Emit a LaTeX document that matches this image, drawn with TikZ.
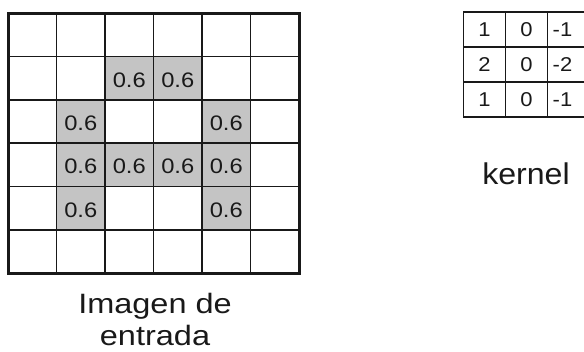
\documentclass[tikz,border=0pt]{standalone}
\usepackage{fontspec}
\setmainfont{Liberation Sans}
\definecolor{cellgray}{RGB}{196,196,196}
\definecolor{ink}{RGB}{25,25,25}
\begin{document}
\begin{tikzpicture}[x=1pt,y=-1pt,
  gridline/.style={draw=ink,line width=1.6pt},
  border/.style={draw=ink,line width=3pt},
  cellfill/.style={fill=cellgray,draw=none},
  val/.style={inner sep=0pt,text=ink,font=\fontsize{21}{21}\selectfont},
  kval/.style={inner sep=0pt,text=ink,font=\fontsize{20}{20}\selectfont},
  caption/.style={inner sep=0pt,text=ink,align=center}]
\useasboundingbox (0,0) rectangle (584,352);
% gray cells (col,row) 0-based
\def\cw{48.5}\def\ch{43.33}
\foreach \c/\r [count=\i] in {2/1,3/1,1/2,4/2,1/3,2/3,3/3,4/3,1/4,4/4}{
  \fill[cellfill] ({8+\c*\cw},{13.3+\r*\ch}) rectangle ({8+(\c+1)*\cw},{13.3+(\r+1)*\ch});
  \node[val] (v\i) at ({8+(\c+0.5)*\cw},{13.3+(\r+0.5)*\ch+1.5}) {\scalebox{1.13}[1]{0.6}};
}
% grid lines
\foreach \k in {1,...,5}{
  \draw[gridline] ({8+\k*\cw},13.3) -- ({8+\k*\cw},273.3);
  \draw[gridline] (8,{13.3+\k*\ch}) -- (299,{13.3+\k*\ch});
}
\draw[border] (8,13.3) rectangle (299,273.3);
% kernel
\def\kw{42}\def\kh{35}
\foreach \k in {1,2}{
  \draw[gridline] ({463.5+\k*\kw},12) -- ({463.5+\k*\kw},117.3);
  \draw[gridline] (463.5,{12+\k*\kh}) -- (592,{12+\k*\kh});
}
\draw[gridline] (463.5,12) rectangle (592,117.3);
\foreach \t/\c/\r/\dx [count=\i] in {1/0/0/0,0/1/0/0,-1/2/0/-6,2/0/1/0,0/1/1/0,-2/2/1/-6,1/0/2/0,0/1/2/0,-1/2/2/-6}{
  \node[kval,anchor=base] (k\i) at ({463.5+(\c+0.5)*\kw+\dx},{12+(\r+0.5)*\kh+7}) {\scalebox{1.1}[1]{\t}};
}
\node[caption,font=\fontsize{30}{30}\selectfont,anchor=base] (kcap) at (526,185) {\scalebox{1.07}[1]{kernel}};
\node[caption,font=\fontsize{28}{28}\selectfont,anchor=base] (icap1) at (155,314) {\scalebox{1.16}[1]{Imagen de}};
\node[caption,font=\fontsize{28}{28}\selectfont,anchor=base] (icap2) at (155,346) {\scalebox{1.16}[1]{entrada}};
\end{tikzpicture}
\end{document}
